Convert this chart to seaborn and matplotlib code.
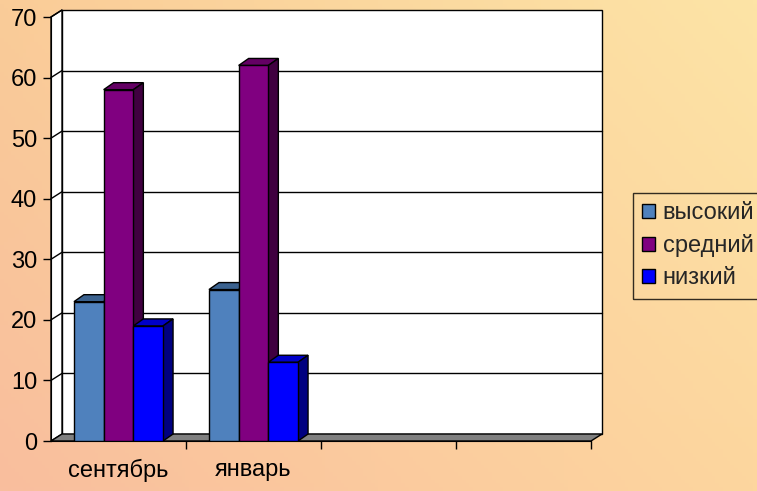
import matplotlib
matplotlib.use("Agg")
import matplotlib.pyplot as plt
from matplotlib.patches import Polygon, Patch
import numpy as np
import pandas as pd
import seaborn as sns

# ─── Data ─────────────────────────────────────────────────────────────────────
months = ["сентябрь", "январь"]
slots = ["сентябрь", "январь", "_c3", "_c4"]      # two empty category slots
levels = ["высокий", "средний", "низкий"]
high = [23, 25]
mid = [58, 62]
low = [19, 13]
y_ticks = [0, 10, 20, 30, 40, 50, 60, 70]

front_colors = ["#4F81BD", "#800080", "#0000FF"]
top_colors = ["#3B628F", "#640064", "#0000C8"]
side_colors = ["#2C4A6E", "#400040", "#000080"]

df = pd.DataFrame({
    "month": months * 3,
    "level": [levels[0]] * 2 + [levels[1]] * 2 + [levels[2]] * 2,
    "value": high + mid + low,
})

sns.set_style("ticks")
plt.rcParams["font.family"] = ["Liberation Sans", "DejaVu Sans"]
FS = 17

W, H = 757, 491
fig = plt.figure(figsize=(W / 100, H / 100), dpi=100)

# ─── Gradient background ──────────────────────────────────────────────────────
bg = fig.add_axes([0, 0, 1, 1], zorder=-10)
tl, tr = np.array([250, 204, 152]), np.array([253, 228, 166])
bl, br = np.array([249, 190, 158]), np.array([253, 214, 158])
u = np.linspace(0, 1, 200)[None, :, None]
v = np.linspace(0, 1, 130)[:, None, None]
grad = (tl * (1 - u) * (1 - v) + tr * u * (1 - v) + bl * (1 - u) * v + br * u * v) / 255
bg.imshow(grad, aspect="auto", extent=[0, 1, 0, 1], origin="upper")
bg.axis("off")

# ─── Main axes (front plane) ──────────────────────────────────────────────────
ax = fig.add_axes([51 / W, 50 / H, 540 / W, 424 / H])
ax.patch.set_visible(False)

sns.barplot(
    data=df, x="month", y="value", hue="level",
    order=slots, hue_order=levels, palette=front_colors,
    width=0.66, gap=0, edgecolor="black", linewidth=1,
    saturation=1, legend=False, ax=ax,
)

ax.set_xlim(-0.5, 3.5)
ax.set_ylim(0, 70)
ax.set_yticks(y_ticks)
ax.set_xlabel("")
ax.set_ylabel("")
for s in ["top", "right"]:
    ax.spines[s].set_visible(False)
ax.spines["left"].set_color("black")
ax.spines["bottom"].set_color("black")
ax.tick_params(axis="y", labelsize=FS, length=6, width=1, color="black", pad=4, labelcolor="black")
ax.set_xticks([0, 1])
ax.set_xticklabels(months)
ax.tick_params(axis="x", which="major", length=0, labelsize=FS, pad=13, labelcolor="black")
ax.set_xticks([0.5, 1.5, 2.5, 3.5], minor=True)
ax.tick_params(axis="x", which="minor", length=6, width=1, color="black")

# pixel offsets → data units
fig.canvas.draw()
o = ax.transData.transform((0, 0))
ux = ax.transData.transform((1, 0))[0] - o[0]
uy = ax.transData.transform((0, 1))[1] - o[1]
wdx, wdy = 11 / ux, 7 / uy      # wall depth
bdx, bdy = 10 / ux, 7 / uy      # bar depth

x0, x1, y0, y1 = -0.5, 3.5, 0, 70

# back wall, side wall, floor
ax.add_patch(Polygon([(x0 + wdx, y0 + wdy), (x1 + wdx, y0 + wdy), (x1 + wdx, y1 + wdy), (x0 + wdx, y1 + wdy)],
                     closed=True, facecolor="white", edgecolor="black", lw=1, zorder=0, clip_on=False))
ax.add_patch(Polygon([(x0, y0), (x0 + wdx, y0 + wdy), (x0 + wdx, y1 + wdy), (x0, y1)],
                     closed=True, facecolor="white", edgecolor="black", lw=1, zorder=0, clip_on=False))
for t in y_ticks[1:-1]:
    ax.plot([x0 + wdx, x1 + wdx], [t + wdy, t + wdy], color="black", lw=1, zorder=0.5, clip_on=False)
    ax.plot([x0, x0 + wdx], [t, t + wdy], color="black", lw=1, zorder=0.5, clip_on=False)
ax.plot([x0, x0 + wdx], [y1, y1 + wdy], color="black", lw=1, zorder=0.5, clip_on=False)
ax.add_patch(Polygon([(x0, y0), (x1, y0), (x1 + wdx, y0 + wdy), (x0 + wdx, y0 + wdy)],
                     closed=True, facecolor="#808080", edgecolor="black", lw=1, zorder=0.8, clip_on=False))

# 3D tops and sides for bars
bars = sorted([p for p in ax.patches if hasattr(p, "get_height") and p.get_height() > 0 and p.get_width() < 0.5],
              key=lambda p: p.get_x())
for k, p in enumerate(bars):
    bx, bw, bh = p.get_x(), p.get_width(), p.get_height()
    ci = [c.lower() for c in front_colors].index(matplotlib.colors.to_hex(p.get_facecolor()).lower())
    z = 2 + 2 * k
    p.set_zorder(z + 1)
    ax.add_patch(Polygon([(bx, bh), (bx + bw, bh), (bx + bw + bdx, bh + bdy), (bx + bdx, bh + bdy)],
                         closed=True, facecolor=top_colors[ci], edgecolor="black", lw=1, zorder=z, clip_on=False))
    ax.add_patch(Polygon([(bx + bw, 0), (bx + bw + bdx, bdy), (bx + bw + bdx, bh + bdy), (bx + bw, bh)],
                         closed=True, facecolor=side_colors[ci], edgecolor="black", lw=1, zorder=z, clip_on=False))

# ─── Legend ───────────────────────────────────────────────────────────────────
handles = [Patch(facecolor=c, edgecolor="black", lw=1) for c in front_colors]
leg = fig.legend(handles, levels, loc="upper left", bbox_to_anchor=(633 / W, 1 - 193 / H),
                 frameon=True, fancybox=False, fontsize=FS, handlelength=0.55, handleheight=0.55,
                 handletextpad=0.3, labelspacing=0.42, borderpad=0.4, borderaxespad=0)
leg.get_frame().set_edgecolor("black")
leg.get_frame().set_facecolor("none")
leg.get_frame().set_linewidth(1)

fig.savefig("out.png", dpi=100)
